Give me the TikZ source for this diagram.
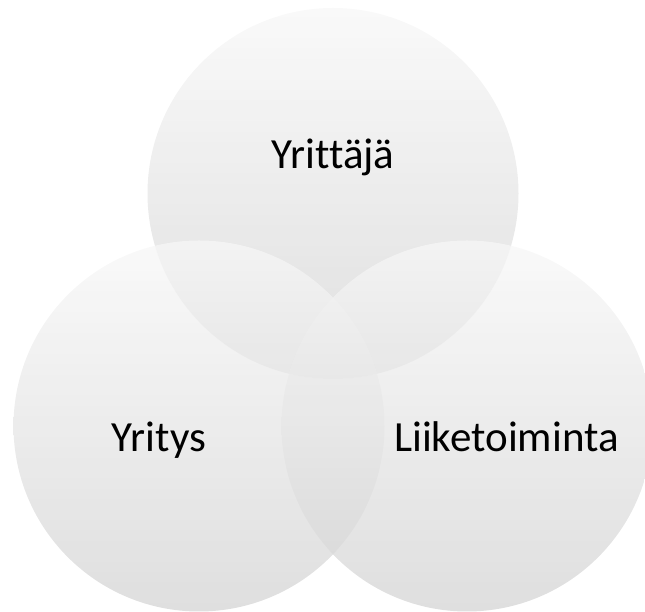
\documentclass[tikz,border=0pt]{standalone}
\usepackage{fontspec}
\setmainfont{Carlito}[Ligatures=NoCommon]
\definecolor{vennlight}{gray}{0.97}
\definecolor{venndark}{gray}{0.83}

\begin{document}
\begin{tikzpicture}[x=1pt, y=1pt,
 venn/.style={circle, minimum size=371pt, inner sep=0pt, draw=none,
   top color=vennlight, bottom color=venndark, fill opacity=.75},
 vennlabel/.style={anchor=base, text=black, font=\fontsize{43}{50}\selectfont}]
\clip (0,0) rectangle (645,612);
% the three circles
\node[venn] (yrittaja) at (333,418.5) {};
\node[venn] (yritys) at (199,186) {};
\node[venn] (liiketoiminta) at (467,186) {};
% labels
\node[vennlabel] (yrittajatext) at (333,443) {Yrittäjä};
\node[vennlabel] (yritystext) at (159,160) {Yritys};
\node[vennlabel] (liiketoimintatext) at (506.5,160) {Liiketoiminta};
\end{tikzpicture}
\end{document}
